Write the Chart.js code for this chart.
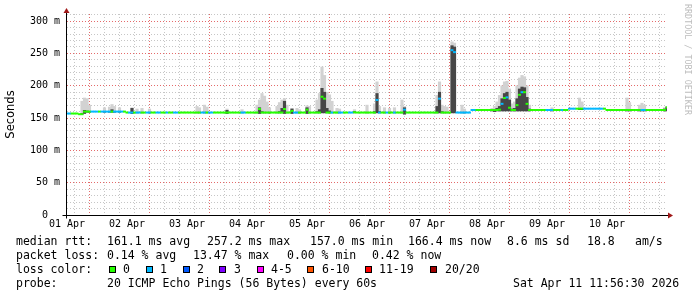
<!DOCTYPE html>
<html>
<head>
  <meta charset="utf-8">
  <title>Smokeping latency</title>
<style>
body {
  margin: 0;
  background: #fff;
}

.graph {
  position: relative;
  width: 697px;
  height: 297px;
  overflow: hidden;
}

#pingChart {
  position: absolute;
  left: 0;
  top: 0;
}

.legend span {
  position: absolute;
  white-space: pre;
  font-family: "DejaVu Sans Mono", monospace;
  font-size: 11.5px;
  line-height: 14px;
  color: #000;
}

.legend .swatch {
  top: 266px;
  width: 7px;
  height: 7px;
  box-sizing: border-box;
  border: 1px solid #000;
}

.watermark {
  position: absolute;
  left: 683px;
  top: 4px;
  writing-mode: vertical-rl;
  font-family: "DejaVu Sans Mono", monospace;
  font-size: 8.4px;
  line-height: 9px;
  color: #bdbdbd;
  white-space: pre;
}
</style>
</head>
<body>
<div class="graph">
  <canvas id="pingChart" width="697" height="297"></canvas>

  <div class="legend">
    <span style="left:16px;top:234px">median rtt:</span>
    <span style="left:107px;top:234px">161.1 ms avg</span>
    <span style="left:207px;top:234px">257.2 ms max</span>
    <span style="left:310px;top:234px">157.0 ms min</span>
    <span style="left:408px;top:234px">166.4 ms now</span>
    <span style="left:507px;top:234px">8.6 ms sd</span>
    <span style="left:587px;top:234px">18.8</span>
    <span style="left:635px;top:234px">am/s</span>

    <span style="left:16px;top:248px">packet loss:</span>
    <span style="left:107px;top:248px">0.14 % avg</span>
    <span style="left:193px;top:248px">13.47 % max</span>
    <span style="left:287px;top:248px">0.00 % min</span>
    <span style="left:372px;top:248px">0.42 % now</span>

    <span style="left:16px;top:262px">loss color:</span>
    <span class="swatch" style="left:109px;background:#26ff00"></span>
    <span style="left:123px;top:262px">0</span>
    <span class="swatch" style="left:146px;background:#00b8ff"></span>
    <span style="left:160px;top:262px">1</span>
    <span class="swatch" style="left:183px;background:#0059ff"></span>
    <span style="left:197px;top:262px">2</span>
    <span class="swatch" style="left:219px;background:#7e00ff"></span>
    <span style="left:234px;top:262px">3</span>
    <span class="swatch" style="left:257px;background:#ff00ff"></span>
    <span style="left:271px;top:262px">4-5</span>
    <span class="swatch" style="left:307px;background:#ff5500"></span>
    <span style="left:322px;top:262px">6-10</span>
    <span class="swatch" style="left:365px;background:#ff0000"></span>
    <span style="left:379px;top:262px">11-19</span>
    <span class="swatch" style="left:430px;background:#a10000"></span>
    <span style="left:445px;top:262px">20/20</span>

    <span style="left:16px;top:276px">probe:</span>
    <span style="left:107px;top:276px">20 ICMP Echo Pings (56 Bytes) every 60s</span>
    <span style="left:513px;top:276px">Sat Apr 11 11:56:30 2026</span>
  </div>

  <div class="watermark">RRDTOOL / TOBI OETIKER</div>
</div>

<script src="https://cdn.jsdelivr.net/npm/chart.js"></script>
<script>
// one value per hour, hour 0 = 01 Apr 12:00
const dayLabels = ['01 Apr', '02 Apr', '03 Apr', '04 Apr', '05 Apr', '06 Apr', '07 Apr', '08 Apr', '09 Apr', '10 Apr'];

// median rtt in ms
const medianRtt = [
  157, 157, 157, 157, 157, 156, 156, 160, 160, 160, 160, 160, 160, 160, 160, 160, 160, 160, 160, 160, 160, 160, 160, 160,
  158.5, 158.5, 158.5, 158.5, 158.5, 158.5, 158.5, 158.5, 158.5, 158.5, 158.5, 158.5, 158.5, 158.5, 158.5, 158.5, 158.5, 158.5, 158.5, 158.5, 158.5, 158.5, 158.5, 158.5,
  158.5, 158.5, 158.5, 158.5, 158.5, 158.5, 158.5, 158.5, 158.5, 158.5, 158.5, 158.5, 158.5, 158.5, 158.5, 158.5, 158.5, 158.5, 158.5, 158.5, 158.5, 158.5, 158.5, 158.5,
  158.5, 158.5, 158.5, 158.5, 158.5, 164, 158.5, 158.5, 158.5, 158.5, 158.5, 158.5, 158.5, 158.5, 158.5, 164, 158.5, 158.5, 161, 158.5, 158.5, 158.5, 158.5, 158.5,
  163, 158.5, 158.5, 158.5, 158.5, 158.5, 183, 180, 158.5, 158.5, 158.5, 158.5, 158.5, 158.5, 158.5, 158.5, 158.5, 158.5, 158.5, 159, 158.5, 158.5, 158.5, 158.5,
  158.5, 158.5, 158.5, 158.5, 178, 158.5, 158.5, 158.5, 158.5, 158.5, 158.5, 158.5, 158.5, 158.5, 158.5, 163, 158.5, 158.5, 158.5, 158.5, 158.5, 158.5, 158.5, 158.5,
  158.5, 158.5, 158.5, 158.5, 158.5, 180, 158.5, 158.5, 158.5, 158.5, 255, 252, 158.5, 158.5, 158.5, 158.5, 158.5, 158.5, 162.5, 162.5, 162.5, 162.5, 162.5, 162.5,
  162.5, 162.5, 162.5, 162.5, 162.5, 163, 172, 181, 182, 166, 162.5, 162.5, 170, 186, 190, 190, 172, 162.5, 162.5, 162.5, 162.5, 162.5, 162.5, 162.5,
  162.5, 162.5, 162.5, 162.5, 162.5, 162.5, 162.5, 162.5, 162.5, 164.5, 164.5, 164.5, 164.5, 164.5, 164.5, 164.5, 164.5, 164.5, 164.5, 164.5, 164.5, 164.5, 164.5, 164.5,
  162.5, 162.5, 162.5, 162.5, 162.5, 162.5, 162.5, 162.5, 162.5, 162.5, 162.5, 162.5, 162.5, 162.5, 162.5, 162.5, 162.5, 162.5, 162.5, 162.5, 162.5, 162.5, 162.5, 162.5,
  166.4
];

// lost pings out of 20, per hour
const lossCount = [
  1, 1, 0, 0, 0, 0, 0, 0, 0, 0, 1, 1, 1, 0, 1, 1, 1, 1, 0, 1, 1, 1, 1, 0,
  0, 1, 1, 0, 1, 1, 0, 0, 1, 1, 0, 0, 1, 1, 0, 0, 1, 0, 0, 1, 1, 0, 0, 0,
  0, 0, 0, 0, 0, 0, 1, 1, 0, 1, 1, 0, 0, 0, 0, 0, 0, 0, 0, 0, 0, 0, 1, 1,
  0, 0, 0, 0, 0, 0, 0, 0, 0, 0, 0, 0, 0, 0, 0, 0, 0, 0, 0, 1, 1, 0, 0, 0,
  0, 0, 0, 0, 0, 0, 0, 0, 0, 0, 1, 0, 0, 1, 1, 0, 0, 1, 1, 0, 0, 0, 0, 0,
  0, 0, 0, 0, 1, 1, 0, 0, 1, 0, 0, 1, 0, 0, 0, 1, 0, 0, 0, 0, 0, 0, 0, 0,
  0, 0, 0, 0, 0, 1, 0, 0, 0, 0, 1, 1, 1, 1, 1, 1, 1, 1, 1, 1, 0, 0, 0, 0,
  0, 0, 0, 0, 0, 0, 1, 0, 1, 0, 0, 0, 0, 0, 1, 0, 0, 0, 0, 0, 0, 0, 0, 0,
  1, 1, 1, 0, 0, 0, 1, 0, 0, 1, 1, 1, 0, 0, 0, 1, 1, 1, 1, 1, 1, 1, 1, 0,
  0, 0, 0, 0, 0, 0, 0, 0, 0, 0, 0, 0, 0, 0, 1, 1, 0, 0, 0, 0, 0, 0, 0, 0,
  0
];

// smoke: hours where the ping spread shows, with low ping, dense band top, max ping (ms)
const smokeHour = [6, 7, 8, 9, 15, 17, 18, 19, 21, 26, 28, 30, 33, 52, 53, 55, 56, 64, 70, 76, 77, 78, 79, 80, 81, 84, 85, 86, 87, 88, 90, 92, 93,
  96, 97, 100, 101, 102, 103, 104, 105, 106, 108, 109, 115, 120, 123, 124, 125, 127, 129, 131, 134, 135, 148, 149, 150, 151, 152, 154, 155, 158, 159,
  170, 171, 172, 173, 174, 175, 176, 177, 178, 179, 180, 181, 182, 183, 184, 185, 194, 205, 206, 224, 225, 229, 230, 231, 239, 240];
const smokeLow = [156, 157, 159, 159, 159, 159, 159, 159, 159, 157, 158, 158, 158, 158, 158, 158, 158, 157, 158, 158, 157, 158, 158, 158, 158, 158, 158, 158, 157, 158, 157, 158, 158,
  157, 158, 158, 158, 158, 158, 158, 158, 158, 158, 158, 158, 158, 158, 158, 158, 158, 158, 158, 158, 156, 158, 158, 158, 158, 158, 158, 158, 158, 158,
  161, 160, 161, 161, 161, 161, 161, 161, 161, 161, 161, 161, 161, 161, 161, 161, 161, 163, 163, 161, 161, 161, 161, 161, 161, 161];
const smokeCore = [157, 162, 161, 160, 160, 160, 163, 160, 160, 165, 159, 159, 159, 159, 159, 159, 159, 162, 159, 159, 166, 160, 159, 159, 159, 159, 160, 165, 176, 159, 164, 159, 159,
  166, 159, 160, 163, 196, 190, 165, 161, 159, 159, 159, 160, 159, 160, 188, 160, 159, 159, 159, 159, 166, 168, 190, 160, 159, 159, 262, 260, 159, 159,
  163, 163, 165, 168, 180, 188, 190, 178, 164, 165, 180, 195, 198, 197, 182, 164, 163, 165, 165, 162, 162, 162, 163, 162, 164, 167];
const smokeTop = [176, 181, 180, 170, 166, 167, 171, 168, 166, 166, 164, 165, 164, 168, 166, 170, 167, 164, 163, 170, 178, 188, 184, 175, 166, 168, 174, 178, 180, 170, 165, 165, 163,
  169, 168, 178, 188, 229, 216, 190, 186, 176, 165, 164, 163, 170, 172, 206, 168, 166, 165, 166, 178, 168, 185, 206, 170, 168, 167, 268, 266, 170, 164,
  165, 168, 175, 185, 200, 206, 207, 195, 172, 175, 200, 212, 216, 214, 200, 170, 166, 181, 175, 181, 174, 170, 173, 170, 166, 168];

const lossColors = ['#26ff00', '#00b8ff', '#0059ff', '#7e00ff', '#ff00ff', '#ff5500', '#ff0000', '#a10000'];

function lossColor(n) {
  if (n <= 0) return lossColors[0];
  if (n <= 3) return lossColors[n];
  if (n <= 5) return lossColors[4];
  if (n <= 10) return lossColors[5];
  if (n <= 19) return lossColors[6];
  return lossColors[7];
}

const gridMinor = '#c6c6c6';
const gridMajor = '#e46a6a';

// axis lines with the rrdtool arrow heads
const axisArrows = {
  id: 'axisArrows',
  afterDraw(chart) {
    const { ctx, chartArea: { left, right, top, bottom } } = chart;
    const x0 = left - 0.5;
    const y0 = bottom + 0.5;
    ctx.save();
    ctx.strokeStyle = '#000';
    ctx.lineWidth = 1;
    ctx.beginPath();
    ctx.moveTo(x0 - 4, y0);
    ctx.lineTo(right + 2, y0);
    ctx.moveTo(x0, y0 + 3);
    ctx.lineTo(x0, top - 1);
    ctx.stroke();
    ctx.fillStyle = '#a01818';
    ctx.beginPath();
    ctx.moveTo(right + 1, y0 - 3);
    ctx.lineTo(right + 6, y0);
    ctx.lineTo(right + 1, y0 + 3);
    ctx.closePath();
    ctx.fill();
    ctx.beginPath();
    ctx.moveTo(x0 - 3, top - 1);
    ctx.lineTo(x0, top - 6);
    ctx.lineTo(x0 + 3, top - 1);
    ctx.closePath();
    ctx.fill();
    ctx.restore();
  }
};

const medianPoints = medianRtt.map((v, i) => ({ x: i, y: v }));
const lightSmoke = smokeHour.map((h, i) => ({ x: h, y: [smokeLow[i], smokeTop[i]] }));
const darkSmoke = smokeHour.map((h, i) => ({ x: h, y: [smokeLow[i], smokeCore[i]] }));

const tickFont = { family: 'DejaVu Sans Mono', size: 10 };

new Chart(document.getElementById('pingChart'), {
  type: 'line',
  data: {
    datasets: [
      {
        // median drawn as short flat dashes per hour, coloured by loss
        type: 'line',
        label: 'median rtt',
        data: medianPoints,
        showLine: false,
        pointStyle: 'line',
        pointRadius: 1.45,
        pointHoverRadius: 1.45,
        pointBorderWidth: 2,
        pointBorderColor: c => lossColor(lossCount[c.dataIndex]),
        order: 0
      },
      {
        type: 'bar',
        label: 'smoke core',
        data: darkSmoke,
        backgroundColor: '#474747',
        borderWidth: 0,
        grouped: false,
        barPercentage: 1,
        categoryPercentage: 1,
        order: 1
      },
      {
        type: 'bar',
        label: 'smoke',
        data: lightSmoke,
        backgroundColor: '#d2d2d2',
        borderWidth: 0,
        grouped: false,
        barPercentage: 1,
        categoryPercentage: 1,
        order: 2
      }
    ]
  },
  options: {
    responsive: false,
    devicePixelRatio: 1,
    animation: false,
    layout: { padding: { left: 0, right: 30, top: 14, bottom: 0 } },
    plugins: {
      legend: { display: false },
      tooltip: { enabled: false }
    },
    scales: {
      x: {
        type: 'linear',
        min: 0,
        max: 240,
        offset: false,
        grid: {
          drawTicks: false,
          color: c => {
            const v = c.tick ? c.tick.value : 0;
            if (v === 0) return 'transparent';
            return v % 24 === 12 ? gridMajor : gridMinor;
          }
        },
        border: { display: false, dash: [1, 2] },
        ticks: {
          stepSize: 6,
          autoSkip: false,
          includeBounds: false,
          maxRotation: 0,
          minRotation: 0,
          padding: 3,
          color: '#000',
          font: tickFont,
          callback: v => (v % 24 === 0 ? (dayLabels[v / 24] || '') : '')
        },
        afterFit: s => { s.height = 82; }
      },
      y: {
        min: 0,
        max: 311,
        grid: {
          drawTicks: false,
          color: c => {
            const v = c.tick ? c.tick.value : 0;
            if (v === 0) return 'transparent';
            return v % 50 === 0 ? gridMajor : gridMinor;
          }
        },
        border: { display: false, dash: [1, 2] },
        ticks: {
          stepSize: 10,
          autoSkip: false,
          includeBounds: false,
          padding: 7,
          color: '#000',
          font: tickFont,
          callback: v => (v % 50 === 0 ? (v === 0 ? '0  ' : v + ' m') : '')
        },
        title: {
          display: true,
          text: 'Seconds',
          color: '#000',
          font: { family: 'DejaVu Sans', size: 11.5 },
          padding: { top: 4, bottom: 0 }
        },
        afterFit: s => { s.width = 67; }
      }
    }
  },
  plugins: [axisArrows]
});
</script>
</body>
</html>
